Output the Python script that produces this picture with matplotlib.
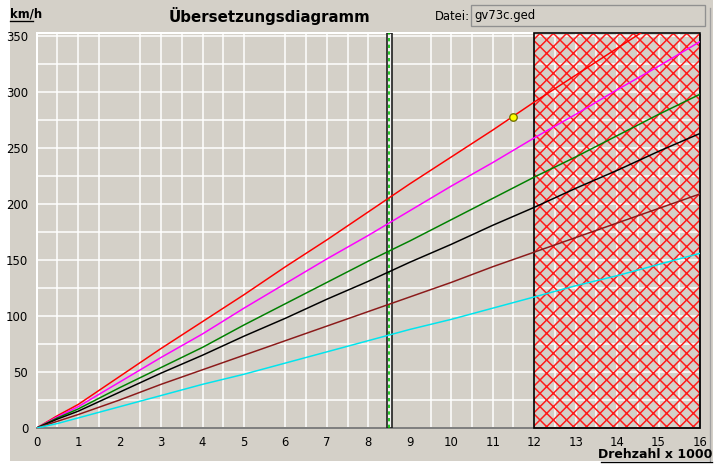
import matplotlib
matplotlib.use("Agg")
import matplotlib.pyplot as plt
from matplotlib.patches import Rectangle
from matplotlib.lines import Line2D

# ---- data ----
rpm = [0, 0.5, 1, 2, 3, 4, 5, 6, 7, 8, 9, 10, 11, 12, 13, 14, 15, 16]
gear_red     = [0, 11, 21, 46, 71, 95, 119, 144, 168, 193, 218, 242, 266, 291, 315, 339, 363, 387]
gear_magenta = [0, 10, 19, 41, 63, 84, 107, 129, 151, 172, 194, 216, 237, 259, 280, 302, 323, 345]
gear_green   = [0, 9, 17, 36, 54, 72, 92, 111, 130, 149, 167, 186, 205, 224, 242, 261, 280, 298]
gear_black   = [0, 8, 15, 32, 49, 65, 82, 98, 115, 131, 148, 164, 181, 197, 214, 230, 247, 263]
gear_brown   = [0, 6, 12, 25, 39, 52, 65, 78, 91, 104, 117, 130, 144, 157, 170, 183, 196, 209]
gear_cyan    = [0, 4, 9, 19, 29, 39, 48, 58, 68, 78, 88, 97, 107, 117, 127, 136, 146, 156]
series = [gear_red, gear_magenta, gear_green, gear_black, gear_brown, gear_cyan]
colors = ["#ff0000", "#ff00ff", "#008000", "#000000", "#8b1a1a", "#00e5ee"]

x_ticks = list(range(0, 17))
y_ticks = [0, 50, 100, 150, 200, 250, 300, 350]
h_grid = [25 * i for i in range(15)]
v_grid = [0.5, 1, 1.5, 2.5, 3, 3.5, 4, 4.5, 5, 6, 6.5, 7, 7.5, 8,
          9.5, 10, 10.5, 11, 11.5, 12.5, 13, 13.5, 14, 14.5, 15, 15.5]
marker_rpm, marker_speed = 11.5, 278
bar_rpm = 8.5
red_zone = (12, 16)

GRAY = "#d4d0c8"
W, H, DPI = 723, 466, 120
plt.rcParams["hatch.linewidth"] = 0.9
plt.rcParams["font.family"] = ["DejaVu Sans"]

fig = plt.figure(figsize=(W / DPI, H / DPI), dpi=DPI, facecolor="white")
# gray panel
fig.patches.append(Rectangle((10 / W, 5 / H), 703 / W, 461 / H, transform=fig.transFigure,
                             facecolor=GRAY, edgecolor="none", zorder=-10))
fig.lines.append(Line2D([710 / W, 710 / W], [5 / H, (H - 8) / H], transform=fig.transFigure,
                        color="#a0a0a0", lw=0.8))

ax = fig.add_axes([36.7 / W, 38 / H, (700 - 36.7) / W, (428 - 33) / H])
ax.set_facecolor(GRAY)
ax.set_xlim(0, 16)
ax.set_ylim(0, 352.7)

for yv in h_grid:
    ax.axhline(yv, color="white", lw=0.9, zorder=1)
for xv in v_grid:
    ax.axvline(xv, color="white", lw=0.9, zorder=1)

# red hatched zone
ax.axvspan(red_zone[0], red_zone[1], facecolor="none", edgecolor="#ff1a1a", hatch="xxx",
           lw=0, zorder=2)
ax.add_patch(Rectangle((red_zone[0], 0), red_zone[1] - red_zone[0], 352.7, fill=False,
                       edgecolor="black", lw=1.0, zorder=5, clip_on=False))

# vertical green bar
ax.axvspan(bar_rpm - 0.05, bar_rpm + 0.07, facecolor="#f0f0f0", edgecolor="#202020",
           lw=1.0, zorder=3)
ax.axvline(bar_rpm + 0.01, color="#00c000", lw=1.0, ls=(0, (2, 2)), zorder=4)

for s, c in zip(series, colors):
    ax.plot(rpm, s, color=c, lw=0.9, zorder=6)

ax.plot(marker_rpm, marker_speed, "o", mfc="#ffff00", mec="#707000", ms=4.5, mew=0.8, zorder=7)

ax.set_xticks(x_ticks)
ax.set_yticks(y_ticks)
ax.tick_params(length=0, labelsize=7, pad=5, colors="black")
for side in ("left", "top"):
    ax.spines[side].set_color("white")
    ax.spines[side].set_linewidth(1.2)
for side in ("right", "bottom"):
    ax.spines[side].set_color("#808080")
    ax.spines[side].set_linewidth(1.2)

# header texts
fig.text(10 / W, 1 - 14 / H, "km/h", fontsize=7, fontweight="bold", va="center", ha="left")
fig.lines.append(Line2D([10 / W, 33 / W], [1 - 21 / H, 1 - 21 / H], transform=fig.transFigure,
                        color="black", lw=0.8))
fig.text(270 / W, 1 - 16 / H, "Übersetzungsdiagramm", fontsize=9, fontweight="bold",
         va="center", ha="center")
fig.text(435 / W, 1 - 16 / H, "Datei:", fontsize=7, va="center", ha="left")
fig.patches.append(Rectangle((471 / W, 1 - 26 / H), 234 / W, 21 / H, transform=fig.transFigure,
                             facecolor=GRAY, edgecolor="#909090", lw=0.8))
fig.text(474 / W, 1 - 16 / H, "gv73c.ged", fontsize=7, va="center", ha="left")

# x axis label
fig.text(712 / W, 1 - 455 / H, "Drehzahl x 1000", fontsize=7.5, fontweight="bold",
         va="center", ha="right")
fig.lines.append(Line2D([601 / W, 712 / W], [1 - 462 / H, 1 - 462 / H], transform=fig.transFigure,
                        color="black", lw=0.8))

fig.savefig("out.png", dpi=DPI, facecolor="white")
